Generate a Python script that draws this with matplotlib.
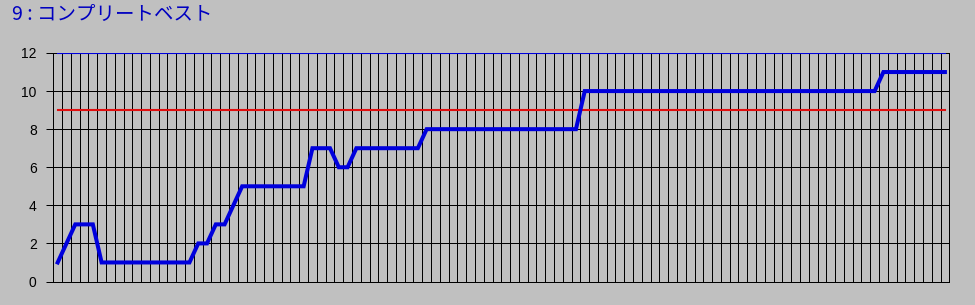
import numpy as np
import matplotlib
matplotlib.use('Agg')
import matplotlib.pyplot as plt

# ──────────────────────────────────────────────
# Data
# ──────────────────────────────────────────────
TITLE = "9 : コンプリートベスト"

best_counts = [
    1, 2, 3, 3, 3, 1, 1, 1, 1, 1,
    1, 1, 1, 1, 1, 1, 2, 2, 3, 3,
    4, 5, 5, 5, 5, 5, 5, 5, 5, 7,
    7, 7, 6, 6, 7, 7, 7, 7, 7, 7,
    7, 7, 8, 8, 8, 8, 8, 8, 8, 8,
    8, 8, 8, 8, 8, 8, 8, 8, 8, 8,
    10, 10, 10, 10, 10, 10, 10, 10, 10, 10,
    10, 10, 10, 10, 10, 10, 10, 10, 10, 10,
    10, 10, 10, 10, 10, 10, 10, 10, 10, 10,
    10, 10, 10, 10, 11, 11, 11, 11, 11, 11,
    11, 11,
]
max_level = 12
target_level = 9
y_ticks = [0, 2, 4, 6, 8, 10, 12]

BG = '#c0c0c0'
BLUE = '#0000dd'
RED = '#e01010'
PX = 72 / 100  # one pixel in points

plt.rcParams['font.family'] = ['Liberation Sans', 'DejaVu Sans']

fig = plt.figure(figsize=(9.75, 3.05), dpi=100, facecolor=BG)
ax = fig.add_axes([53.3 / 975, 1 - 281.5 / 305, 896 / 975, 228.5 / 305])
ax.set_facecolor(BG)

x = np.arange(1, len(best_counts) + 1)

# grid: one vertical line per category boundary, horizontal every 2
ax.set_xticks(np.arange(0.5, len(best_counts) + 1, 1))
ax.set_xticklabels([])
ax.tick_params(axis='x', length=0)
ax.set_yticks(y_ticks)
ax.tick_params(axis='y', length=5, width=PX, color='black', pad=7,
               labelsize=10, labelcolor='black')
ax.grid(True, color='black', linewidth=PX, antialiased=False)
ax.set_axisbelow(True)
for s in ax.spines.values():
    s.set_color('black')
    s.set_linewidth(PX)
    s.set_antialiased(False)

ax.plot([x[0], x[-1]], [max_level, max_level], color=BLUE, lw=1.5, zorder=3)
ax.plot([x[0], x[-1]], [target_level, target_level], color=RED, lw=1.5, zorder=3)
ax.plot(x, best_counts, color=BLUE, lw=2.9, zorder=4, solid_joinstyle='miter')

ax.set_xlim(0.5, len(best_counts) + 0.5)
ax.set_ylim(0, 12)

fig.text(12 / 975, 1 - 14.5 / 305, TITLE, color='#0000c0', fontsize=14,
         va='center', ha='left', family=['Noto Sans CJK JP', 'DejaVu Sans'])

fig.savefig('out.png', dpi=100, facecolor=BG)
